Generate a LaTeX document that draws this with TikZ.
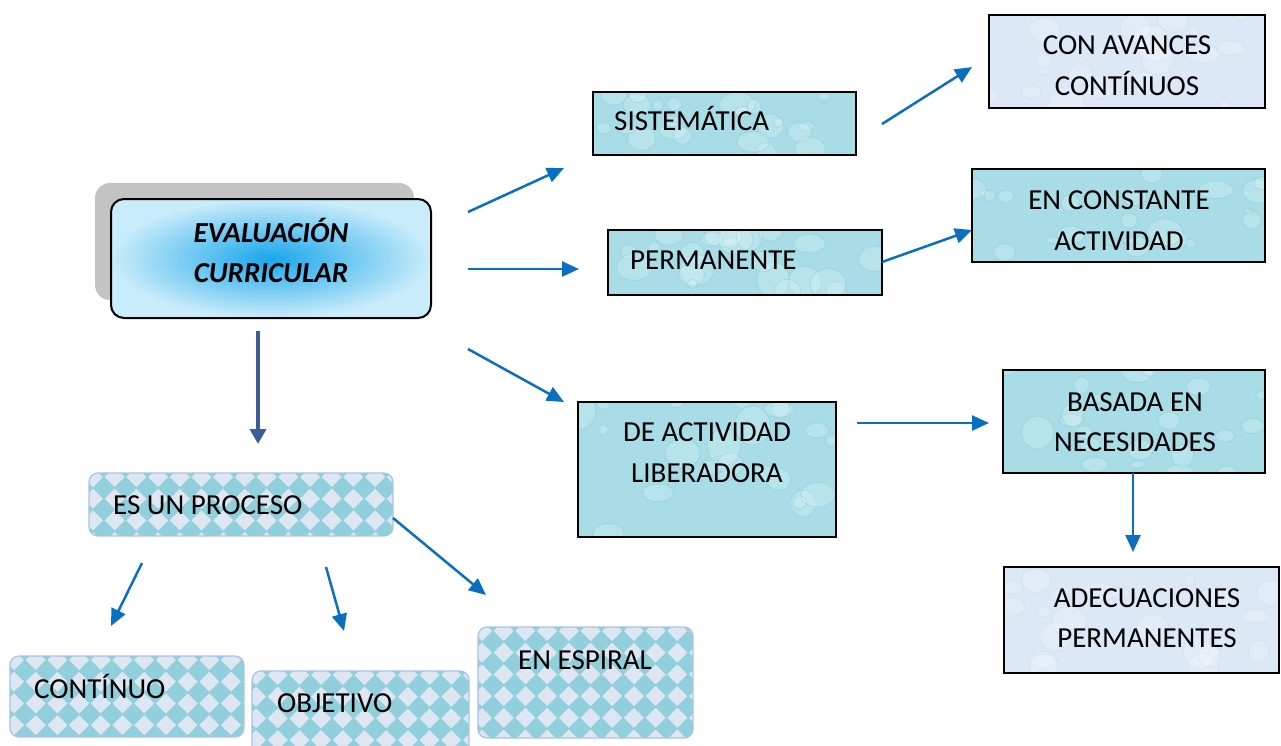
\documentclass[tikz,border=0pt]{standalone}
\usepackage{fontspec}
\setmainfont{Carlito}
\usetikzlibrary{arrows.meta,calc}
\definecolor{arrblue}{HTML}{0A6FC0}
\definecolor{darkarr}{HTML}{3A5F94}
\definecolor{teal1}{HTML}{91CFDC}
\definecolor{diaml}{HTML}{DEE6F2}
\definecolor{diamborder}{HTML}{A9C3E6}
\definecolor{waterA}{HTML}{A8DDE7}
\definecolor{waterdrop}{HTML}{7CC0D0}
\definecolor{paleA}{HTML}{DCE8F6}
\definecolor{paledrop}{HTML}{C3D6EA}
\definecolor{evalIn}{HTML}{19A6EA}
\definecolor{evalOut}{HTML}{C9ECFA}
\definecolor{shadowgray}{HTML}{C3C3C3}
\newcommand\droptex[2]{%
  \fill[#1] (path picture bounding box.south west) rectangle (path picture bounding box.north east);
  \foreach \k in {1,...,22}{%
    \pgfmathsetmacro\rx{rnd}\pgfmathsetmacro\ry{rnd}%
    \pgfmathsetmacro\rr{5+14*rnd}\pgfmathsetmacro\rs{0.5+0.6*rnd}%
    \coordinate (pa) at ($(path picture bounding box.north west)!\rx!(path picture bounding box.north east)$);
    \coordinate (pb) at ($(path picture bounding box.south west)!\rx!(path picture bounding box.south east)$);
    \filldraw[fill=white, fill opacity=0.18, draw=#2, draw opacity=0.35, line width=0.8pt]
      ($(pa)!\ry!(pb)$) ellipse [x radius=\rr pt, y radius=\rr*\rs pt];
  }%
}
\newcommand\diamtex{%
  \fill[teal1, sharp corners] (path picture bounding box.south west) rectangle (path picture bounding box.north east);
  \foreach \i in {0,...,15}{\foreach \j in {0,...,6}{%
    \fill[diaml, sharp corners] ($(path picture bounding box.north west)+(\i*21.7+4, \j*21.7+4)$)
      +(-10,0) -- +(0,-10) -- +(10,0) -- +(0,10) -- cycle;}}%
}
\tikzset{
  lbl/.style={font=\fontsize{29}{40}\selectfont, inner sep=0pt, anchor=base west},
  lblc/.style={lbl, anchor=base},
  arr/.style={draw=arrblue, line width=2.5pt, -{Triangle[length=17pt,width=15pt]}},
  boxbase/.style={rectangle, inner sep=0pt, draw=black, line width=2pt},
  water/.style={boxbase, path picture={\droptex{waterA}{waterdrop}}},
  pale/.style={boxbase, path picture={\droptex{paleA}{paledrop}}},
  diam/.style={rectangle, inner sep=0pt, rounded corners=9pt, draw=diamborder, line width=1.2pt, path picture={\diamtex}},
}
\begin{document}
\begin{tikzpicture}[x=1pt,y=-1pt]
\pgfmathsetseed{11}
\useasboundingbox (0,0) rectangle (1281,746);
\fill[white] (0,0) rectangle (1281,746);

% main node
\node[name=shadow, rectangle, rounded corners=15pt, fill=shadowgray, minimum width=319pt, minimum height=117pt, inner sep=0pt] at (254.5,241.5) {};
\node[name=eval, rectangle, rounded corners=13pt, draw=black, line width=2pt, inner color=evalIn, outer color=evalOut, minimum width=320pt, minimum height=119pt, inner sep=0pt] at (271,258.5) {};
\node[name=t-eval1, lblc, font=\fontsize{29}{40}\selectfont\bfseries\itshape] at (271,242) {EVALUACIÓN};
\node[name=t-eval2, lblc, font=\fontsize{29}{40}\selectfont\bfseries\itshape] at (271,282) {CURRICULAR};

% right side boxes
\node[name=sis, water, minimum width=263pt, minimum height=63pt] at (724.5,123.5) {};
\node[name=t-sis, lbl] at (614,131) {SISTEMÁTICA};

\node[name=con, pale, minimum width=276pt, minimum height=93pt] at (1127,61.5) {};
\node[name=t-con1, lblc] at (1127,55) {CON AVANCES};
\node[name=t-con2, lblc] at (1127,96) {CONTÍNUOS};

\node[name=perm, water, minimum width=274pt, minimum height=65pt] at (745,262.5) {};
\node[name=t-perm, lbl] at (630,269) {PERMANENTE};

\node[name=const, water, minimum width=293pt, minimum height=93pt] at (1118.5,215.5) {};
\node[name=t-const1, lblc] at (1119,209) {EN CONSTANTE};
\node[name=t-const2, lblc] at (1119,250) {ACTIVIDAD};

\node[name=lib, water, minimum width=258pt, minimum height=135pt] at (707,469.5) {};
\node[name=t-lib1, lblc] at (707,441) {DE ACTIVIDAD};
\node[name=t-lib2, lblc] at (707,482) {LIBERADORA};

\node[name=bas, water, minimum width=262pt, minimum height=103pt] at (1134,421.5) {};
\node[name=t-bas1, lblc] at (1135,411) {BASADA EN};
\node[name=t-bas2, lblc] at (1135,451) {NECESIDADES};

\node[name=adec, pale, minimum width=275pt, minimum height=106pt] at (1141.5,620) {};
\node[name=t-adec1, lblc] at (1147,607) {ADECUACIONES};
\node[name=t-adec2, lblc] at (1147,647) {PERMANENTES};

% lower left boxes
\node[name=proc, diam, minimum width=304pt, minimum height=63pt] at (241,504.5) {};
\node[name=t-proc, lbl] at (113,514) {ES UN PROCESO};

\node[name=cont, diam, minimum width=234pt, minimum height=81pt] at (127,696.5) {};
\node[name=t-cont, lbl] at (34,698) {CONTÍNUO};

\node[name=obj, diam, minimum width=217pt, minimum height=85pt] at (360.5,713.5) {};
\node[name=t-obj, lbl] at (277,712) {OBJETIVO};

\node[name=esp, diam, minimum width=215pt, minimum height=111pt] at (585.5,682.5) {};
\node[name=t-esp, lblc] at (585,669) {EN ESPIRAL};

% connector end points
\coordinate (a1s) at (468,212); \coordinate (a1e) at (564,168);
\coordinate (a2s) at (468,269); \coordinate (a2e) at (579,269);
\coordinate (a3s) at (468,349); \coordinate (a3e) at (564,402);
\coordinate (a4s) at (882,124); \coordinate (a4e) at (972,67);
\coordinate (a5s) at (882,262); \coordinate (a5e) at (972,230);
\coordinate (a6s) at (857,423); \coordinate (a6e) at (989,423);
\coordinate (a7s) at (1133,473); \coordinate (a7e) at (1133,552);
\coordinate (a8s) at (258,331); \coordinate (a8e) at (258,444);
\coordinate (a9s) at (142,563); \coordinate (a9e) at (111,626);
\coordinate (a10s) at (326,567); \coordinate (a10e) at (344,631);
\coordinate (a11s) at (393,518); \coordinate (a11e) at (486,595);

\draw[arr] (a1s) -- (a1e);
\draw[arr] (a2s) -- (a2e);
\draw[arr] (a3s) -- (a3e);
\draw[arr] (a4s) -- (a4e);
\draw[arr] (a5s) -- (a5e);
\draw[arr] (a6s) -- (a6e);
\draw[arr] (a7s) -- (a7e);
\draw[draw=darkarr, line width=4pt, -{Triangle[length=15pt,width=16pt]}] (a8s) -- (a8e);
\draw[arr] (a9s) -- (a9e);
\draw[arr] (a10s) -- (a10e);
\draw[arr] (a11s) -- (a11e);
\end{tikzpicture}
\end{document}
